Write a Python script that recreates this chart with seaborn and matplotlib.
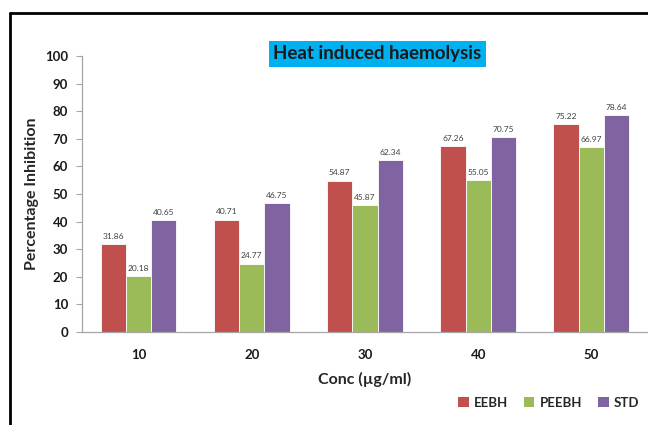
import numpy as np
import pandas as pd
import matplotlib
matplotlib.use("Agg")
import matplotlib.pyplot as plt
from matplotlib.lines import Line2D
from matplotlib.patches import Patch
import seaborn as sns

conc = ["10", "20", "30", "40", "50"]
eebh = [31.86, 40.71, 54.87, 67.26, 75.22]
peebh = [20.18, 24.77, 45.87, 55.05, 66.97]
std = [40.65, 46.75, 62.34, 70.75, 78.64]
series = ["EEBH", "PEEBH", "STD"]
colors = ["#C0504D", "#9BBB59", "#8064A2"]

df = pd.DataFrame({
    "conc": conc * 3,
    "value": eebh + peebh + std,
    "group": [s for s in series for _ in conc],
})

sns.set_style("white")
plt.rcParams["font.family"] = ["Lato", "DejaVu Sans"]

fig = plt.figure(figsize=(6.48, 4.25), dpi=100)
ax = fig.add_axes([0.1265, 0.2188, 0.8735, 0.6494])

sns.barplot(data=df, x="conc", y="value", hue="group", palette=colors,
            saturation=1, width=0.67, gap=0, edgecolor="white", linewidth=0.6,
            ax=ax, legend=False)

for cont in ax.containers:
    ax.bar_label(cont, fmt="%.2f", padding=3, fontsize=6, color="#404040")

ax.set_ylim(0, 100)
ax.set_yticks(np.arange(0, 101, 10))
ax.set_xlim(-0.5, 4.5)
ax.set_xticks(range(5))
ax.set_xticks(np.arange(-0.5, 5, 1), minor=True)
ax.tick_params(axis="x", which="major", length=0, pad=12)
ax.tick_params(axis="x", which="minor", length=4, color="#A6A6A6")
ax.tick_params(axis="y", length=4, color="#A6A6A6", left=True, pad=6)
for lab in ax.get_xticklabels() + ax.get_yticklabels():
    lab.set_fontweight("bold")
    lab.set_fontsize(9.5)
    lab.set_color("#1a1a1a")

sns.despine(ax=ax, top=True, right=True)
for s in ["left", "bottom"]:
    ax.spines[s].set_color("#A6A6A6")
    ax.spines[s].set_linewidth(0.9)

ax.set_xlabel("Conc (µg/ml)", fontsize=11.5, fontweight="bold", labelpad=8)
ax.set_ylabel("Percentage Inhibition", fontsize=11.5, fontweight="bold", labelpad=4)

fig.text(0.5826, 0.873, "Heat induced haemolysis", ha="center", va="center",
         fontsize=13.5, fontweight="bold", color="#1a1a1a",
         bbox=dict(boxstyle="square,pad=0.22", facecolor="#00B0F0", edgecolor="none"))

handles = [Patch(facecolor=c, edgecolor="none") for c in colors]
fig.legend(handles, series, loc="center right", bbox_to_anchor=(1.005, 0.052),
           ncol=3, frameon=False, handlelength=0.8, handleheight=0.8,
           handletextpad=0.4, columnspacing=1.2,
           prop={"weight": "bold", "size": 9.5})

# outer frame, cut off at the right and bottom
fig.add_artist(Line2D([10 / 648, 10 / 648], [0, 1 - 13 / 425], color="black", lw=2))
fig.add_artist(Line2D([10 / 648, 1], [1 - 13 / 425, 1 - 13 / 425], color="black", lw=2))

fig.savefig("out.png", dpi=100)
